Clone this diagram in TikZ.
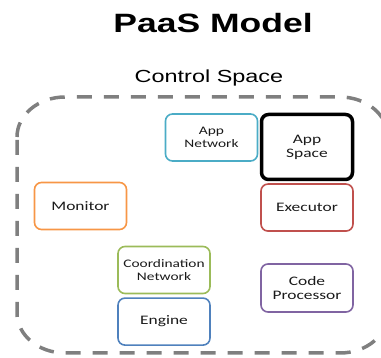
\documentclass[tikz,border=0pt]{standalone}
\usepackage{fontspec}
\usepackage{tikz}
\usetikzlibrary{positioning}
\usepackage{xcolor}
\newfontfamily\titlefont[FakeStretch=1.34]{Liberation Sans}
\newfontfamily\boxfont[FakeStretch=1.34]{Carlito}
\definecolor{DashGray}{HTML}{7F7F7F}
\definecolor{TextBlack}{HTML}{1A1A1A}
\definecolor{Aqua}{HTML}{4BACC6}
\definecolor{Orange}{HTML}{F79646}
\definecolor{Brick}{HTML}{C0504D}
\definecolor{Olive}{HTML}{9BBB59}
\definecolor{Steel}{HTML}{4F81BD}
\definecolor{Violet}{HTML}{8064A2}
\tikzset{%
  box/.style={%
    rectangle,%
    rounded corners=7pt,%
    line width=1.6pt,%
    minimum width=92pt,%
    minimum height=47pt,%
    inner sep=0pt,%
    text=TextBlack,%
    font={\boxfont\fontsize{13}{14}\selectfont},%
    align=center%
  },
  small_box/.style={%
    box,%
    font={\boxfont\fontsize{11.5}{13}\selectfont}%
  },
  space_path/.style={%
    color=DashGray,%
    line width=3.5pt,%
    dash pattern=on 15pt off 12pt,%
  },
  heading/.style={%
    anchor=base,%
    inner sep=0pt,%
  },
}
\begin{document}
\begin{tikzpicture}[x=1pt, y=-1pt]
  \useasboundingbox (0,0) rectangle (381,358);
  \clip (0,0) rectangle (381,358);

  \node [heading, font={\titlefont\bfseries\fontsize{26.5}{30}\selectfont}] (title) at (213,33) {PaaS Model};
  \node [heading, font={\titlefont\fontsize{17.5}{20}\selectfont}] (space) at (209,83) {Control Space};

  \node [draw=Aqua, small_box] (AppNet) at (211.5,137.5) {App\\Network};
  \node [draw=black, box, line width=3.5pt, minimum width=91pt, minimum height=65pt] (AppSpace) at (307,147) {App\\Space};
  \node [draw=Brick, box, below = 2pt of AppSpace] (Executor) {Executor};
  \node [draw=Orange, box] (Monitor) at (80.5,206) {Monitor};
  \node [draw=Olive, small_box] (CoordNet) at (164,270) {Coordination\\Network};
  \node [draw=Steel, box, below = 3pt of CoordNet] (Engine) {Engine};
  \node [draw=Violet, box, minimum height=48pt] (CodeProc) at (307,288) {Code\\Processor};

  % control space border
  \draw [space_path]
    (17,137)
    arc [start angle=180, end angle=270, x radius=48, y radius=40]
    --
    (340,97)
    arc [start angle=270, end angle=360, x radius=48, y radius=40]
    --
    (388,313)
    arc [start angle=0, end angle=90, x radius=48, y radius=40]
    --
    (65,353)
    arc [start angle=90, end angle=180, x radius=48, y radius=40]
    --
    cycle;
\end{tikzpicture}
\end{document}
